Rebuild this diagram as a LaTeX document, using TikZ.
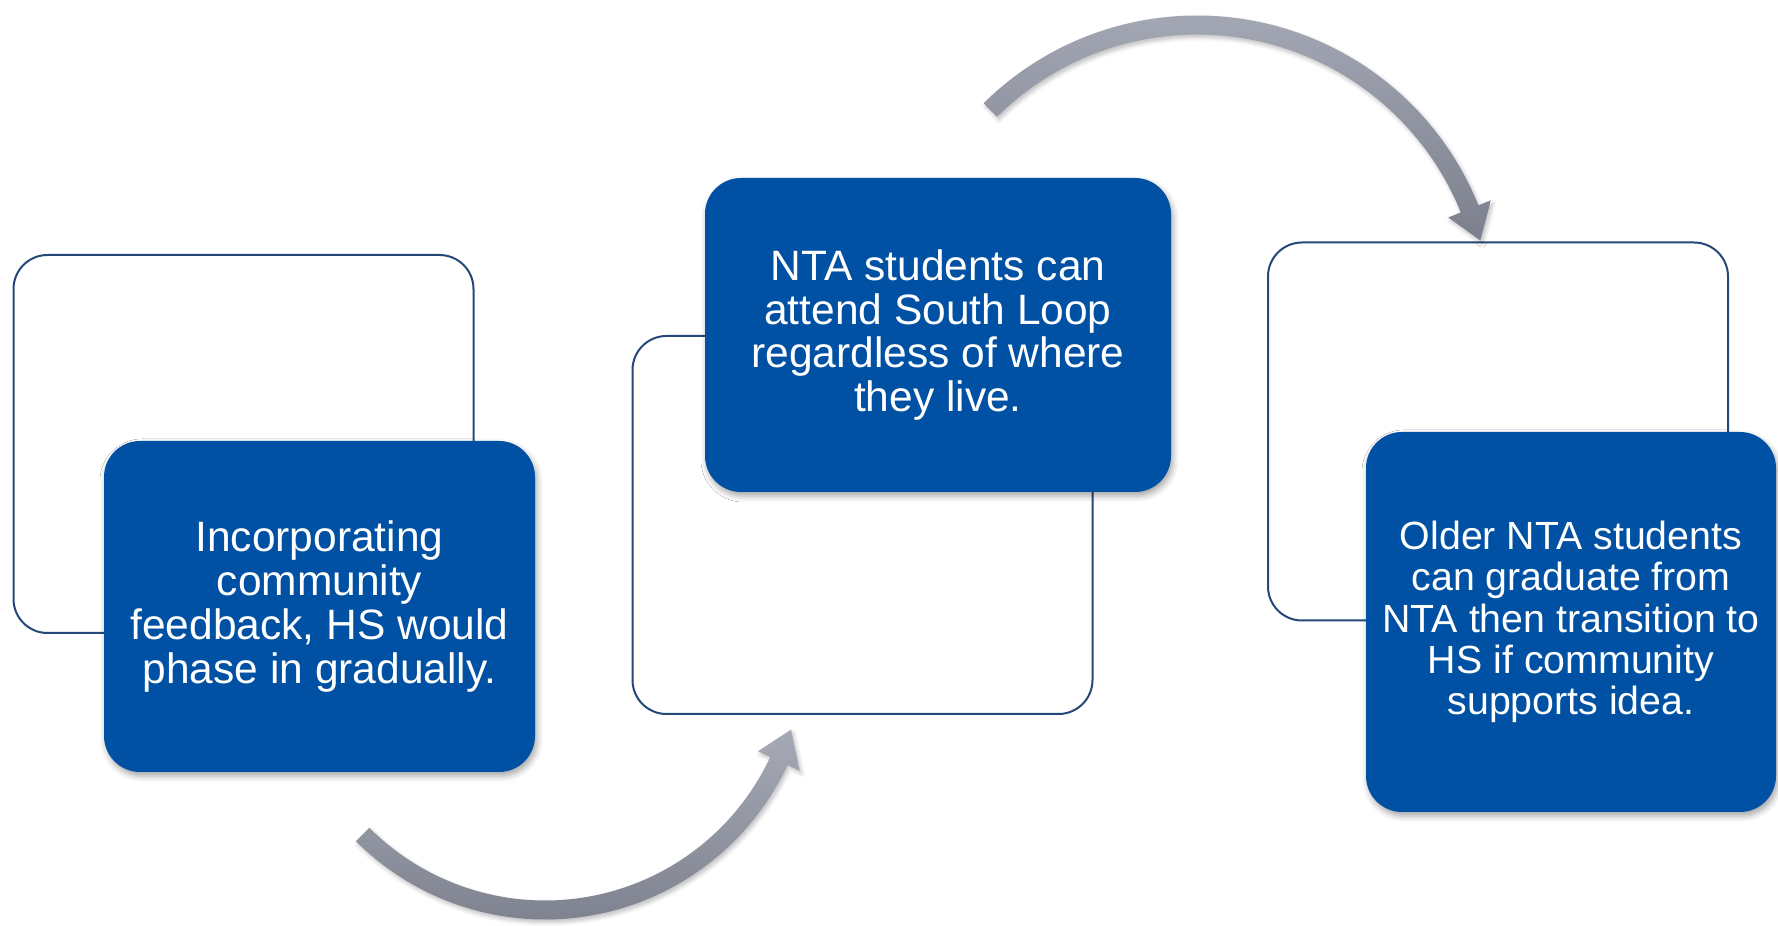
\documentclass[tikz,border=0pt]{standalone}
\usepackage{fontspec}
\setmainfont{Liberation Sans}
\usetikzlibrary{shadows.blur}
\definecolor{boxblue}{RGB}{0,81,163}
\definecolor{rimblue}{RGB}{38,72,120}
\definecolor{arrowtop}{RGB}{166,170,182}
\definecolor{arrowbot}{RGB}{124,128,141}
\begin{document}
\begin{tikzpicture}[x=1pt,y=1pt,
  back/.style={draw=rimblue,line width=2pt,fill=white,rounded corners=34pt,
    minimum width=460pt,minimum height=378pt},
  front/.style={fill=boxblue,text=white,rounded corners=36pt,align=center,inner sep=0pt,
    blur shadow={shadow xshift=2pt,shadow yshift=-4pt,shadow blur radius=6pt,shadow opacity=35}},
  big/.style={font=\fontsize{42.5}{43.7}\selectfont},
  small/.style={font=\fontsize{39.3}{41.3}\selectfont},
  turnarrow/.style={top color=arrowtop,bottom color=arrowbot,
    blur shadow={shadow xshift=2pt,shadow yshift=-3pt,shadow blur radius=4pt,shadow opacity=25}},
  ]
\useasboundingbox (0,0) rectangle (1778,926);
% back frames
\node[back] (w1) at (243.5,482) {};
\node[back] (w2) at (862.5,401) {};
\node[back] (w3) at (1498,494.5) {};
% text boxes
\node[front,big,minimum width=431pt,minimum height=331pt] (b1) at (319.5,319.5)
  {Incorporating\\community\\feedback, HS would\\phase in gradually.};
\node[front,big,minimum width=466pt,minimum height=314pt] (b2) at (938,591)
  {NTA students can\\attend South Loop\\regardless of where\\they live.};
\node[front,small,minimum width=410pt,minimum height=380pt] (b3) at (1571,304)
  {Older NTA students\\can graduate from\\NTA then transition to\\HS if community\\supports idea.};
% curved arrows
\coordinate (c1) at (545,274);
\coordinate (c2) at (1197,607);
\shade[turnarrow] ([shift={(c1)}]225:267.5) arc[start angle=225,end angle=335,radius=267.5]
  -- ([shift={(c1)}]335:281) -- ([shift={(c1)}]342.5:258) -- ([shift={(c1)}]335:235)
  -- ([shift={(c1)}]335:248.5) arc[start angle=335,end angle=225,radius=248.5] -- cycle;
\shade[turnarrow] ([shift={(c2)}]134.7:303.5) arc[start angle=134.7,end angle=22,radius=303.5]
  -- ([shift={(c2)}]22:317) -- ([shift={(c2)}]15.5:294) -- ([shift={(c2)}]22:271)
  -- ([shift={(c2)}]22:284.5) arc[start angle=22,end angle=134.7,radius=284.5] -- cycle;
\end{tikzpicture}
\end{document}
